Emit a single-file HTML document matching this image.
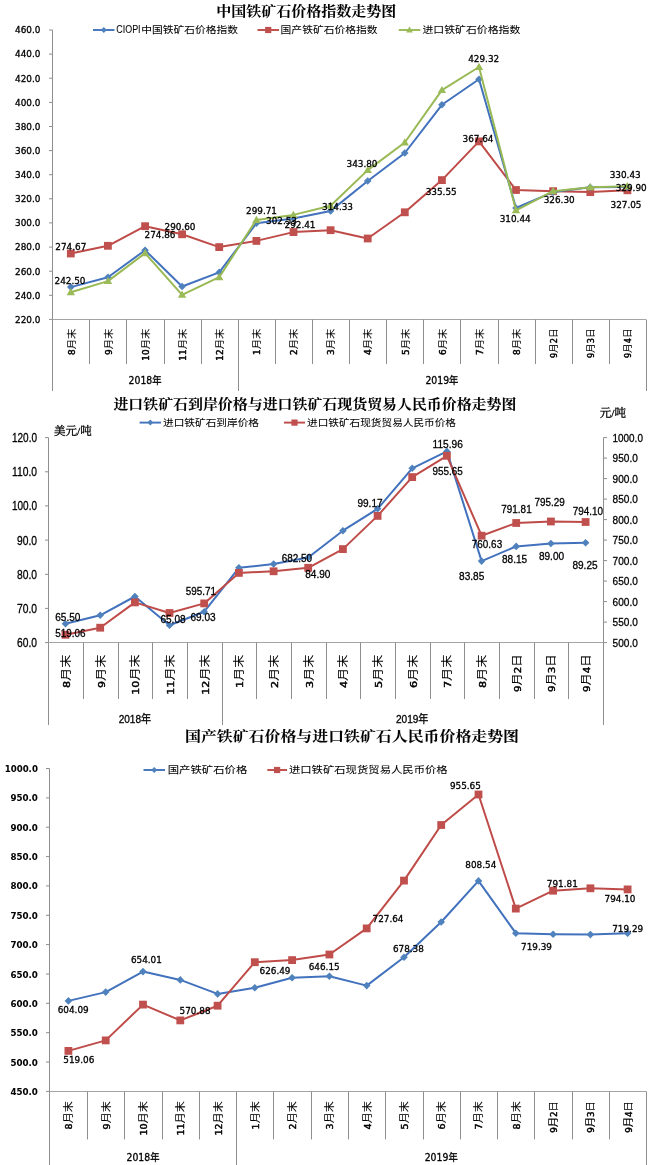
<!DOCTYPE html>
<html><head><meta charset="utf-8"><title>铁矿石价格走势图</title>
<style>html,body{margin:0;padding:0;background:#fff;}svg{display:block;}text{stroke:#000;stroke-width:0.3px;}text.t{stroke-width:0.05px;}</style>
</head><body>
<svg width="650" height="1165" viewBox="0 0 650 1165">
<rect width="650" height="1165" fill="#fff"/>
<text x="306.3" y="16.0" font-size="13.5" font-family="'Liberation Serif', 'Noto Serif CJK SC', serif" font-weight="bold" text-anchor="middle" textLength="180.0" lengthAdjust="spacingAndGlyphs" class="t" fill="#000">中国铁矿石价格指数走势图</text>
<line x1="93" y1="30" x2="114.5" y2="30" stroke="#4272bd" stroke-width="1.9"/>
<path d="M103.8 27.0L106.8 30.0L103.8 33.0L100.7 30.0Z" fill="#4f81bd"/>
<text x="141.3" y="33.4" font-size="9.6" font-family="'Liberation Sans', 'Noto Sans CJK SC', sans-serif" textLength="96.7" lengthAdjust="spacingAndGlyphs" class="t" fill="#000">中国铁矿石价格指数</text>
<text x="116.3" y="33.3" font-size="10" font-family="'Liberation Sans', 'Noto Sans CJK SC', sans-serif" textLength="24.3" lengthAdjust="spacingAndGlyphs" class="t" fill="#000">CIOPI</text>
<line x1="257.5" y1="30" x2="279" y2="30" stroke="#be4b48" stroke-width="1.9"/>
<rect x="265.1" y="26.9" width="6.2" height="6.2" fill="#c0504d"/>
<text x="280.6" y="33.4" font-size="9.6" font-family="'Liberation Sans', 'Noto Sans CJK SC', sans-serif" textLength="97.0" lengthAdjust="spacingAndGlyphs" class="t" fill="#000">国产铁矿石价格指数</text>
<line x1="398.7" y1="30" x2="420.3" y2="30" stroke="#98b954" stroke-width="1.9"/>
<path d="M409.5 26.6L412.9 32.4L406.1 32.4Z" fill="#9bbb59"/>
<text x="422.4" y="33.4" font-size="9.6" font-family="'Liberation Sans', 'Noto Sans CJK SC', sans-serif" textLength="98.0" lengthAdjust="spacingAndGlyphs" class="t" fill="#000">进口铁矿石价格指数</text>
<line x1="52.5" y1="30" x2="52.5" y2="391" stroke="#8e8e8e" stroke-width="1"/>
<line x1="49" y1="319.4" x2="52.5" y2="319.4" stroke="#8e8e8e" stroke-width="1"/>
<text x="40.4" y="322.7" font-size="9" font-family="'DejaVu Sans', 'Noto Sans CJK SC', sans-serif" text-anchor="end" textLength="25.4" lengthAdjust="spacingAndGlyphs" fill="#000">220.0</text>
<line x1="49" y1="295.3" x2="52.5" y2="295.3" stroke="#8e8e8e" stroke-width="1"/>
<text x="40.4" y="298.6" font-size="9" font-family="'DejaVu Sans', 'Noto Sans CJK SC', sans-serif" text-anchor="end" textLength="25.4" lengthAdjust="spacingAndGlyphs" fill="#000">240.0</text>
<line x1="49" y1="271.2" x2="52.5" y2="271.2" stroke="#8e8e8e" stroke-width="1"/>
<text x="40.4" y="274.5" font-size="9" font-family="'DejaVu Sans', 'Noto Sans CJK SC', sans-serif" text-anchor="end" textLength="25.4" lengthAdjust="spacingAndGlyphs" fill="#000">260.0</text>
<line x1="49" y1="247.1" x2="52.5" y2="247.1" stroke="#8e8e8e" stroke-width="1"/>
<text x="40.4" y="250.4" font-size="9" font-family="'DejaVu Sans', 'Noto Sans CJK SC', sans-serif" text-anchor="end" textLength="25.4" lengthAdjust="spacingAndGlyphs" fill="#000">280.0</text>
<line x1="49" y1="222.9" x2="52.5" y2="222.9" stroke="#8e8e8e" stroke-width="1"/>
<text x="40.4" y="226.2" font-size="9" font-family="'DejaVu Sans', 'Noto Sans CJK SC', sans-serif" text-anchor="end" textLength="25.4" lengthAdjust="spacingAndGlyphs" fill="#000">300.0</text>
<line x1="49" y1="198.8" x2="52.5" y2="198.8" stroke="#8e8e8e" stroke-width="1"/>
<text x="40.4" y="202.1" font-size="9" font-family="'DejaVu Sans', 'Noto Sans CJK SC', sans-serif" text-anchor="end" textLength="25.4" lengthAdjust="spacingAndGlyphs" fill="#000">320.0</text>
<line x1="49" y1="174.7" x2="52.5" y2="174.7" stroke="#8e8e8e" stroke-width="1"/>
<text x="40.4" y="178.0" font-size="9" font-family="'DejaVu Sans', 'Noto Sans CJK SC', sans-serif" text-anchor="end" textLength="25.4" lengthAdjust="spacingAndGlyphs" fill="#000">340.0</text>
<line x1="49" y1="150.6" x2="52.5" y2="150.6" stroke="#8e8e8e" stroke-width="1"/>
<text x="40.4" y="153.9" font-size="9" font-family="'DejaVu Sans', 'Noto Sans CJK SC', sans-serif" text-anchor="end" textLength="25.4" lengthAdjust="spacingAndGlyphs" fill="#000">360.0</text>
<line x1="49" y1="126.5" x2="52.5" y2="126.5" stroke="#8e8e8e" stroke-width="1"/>
<text x="40.4" y="129.8" font-size="9" font-family="'DejaVu Sans', 'Noto Sans CJK SC', sans-serif" text-anchor="end" textLength="25.4" lengthAdjust="spacingAndGlyphs" fill="#000">380.0</text>
<line x1="49" y1="102.4" x2="52.5" y2="102.4" stroke="#8e8e8e" stroke-width="1"/>
<text x="40.4" y="105.7" font-size="9" font-family="'DejaVu Sans', 'Noto Sans CJK SC', sans-serif" text-anchor="end" textLength="25.4" lengthAdjust="spacingAndGlyphs" fill="#000">400.0</text>
<line x1="49" y1="78.2" x2="52.5" y2="78.2" stroke="#8e8e8e" stroke-width="1"/>
<text x="40.4" y="81.5" font-size="9" font-family="'DejaVu Sans', 'Noto Sans CJK SC', sans-serif" text-anchor="end" textLength="25.4" lengthAdjust="spacingAndGlyphs" fill="#000">420.0</text>
<line x1="49" y1="54.1" x2="52.5" y2="54.1" stroke="#8e8e8e" stroke-width="1"/>
<text x="40.4" y="57.4" font-size="9" font-family="'DejaVu Sans', 'Noto Sans CJK SC', sans-serif" text-anchor="end" textLength="25.4" lengthAdjust="spacingAndGlyphs" fill="#000">440.0</text>
<line x1="49" y1="30.0" x2="52.5" y2="30.0" stroke="#8e8e8e" stroke-width="1"/>
<text x="40.4" y="33.3" font-size="9" font-family="'DejaVu Sans', 'Noto Sans CJK SC', sans-serif" text-anchor="end" textLength="25.4" lengthAdjust="spacingAndGlyphs" fill="#000">460.0</text>
<line x1="52.3" y1="319.5" x2="645.9" y2="319.5" stroke="#a4a4a4" stroke-width="1"/>
<line x1="89.5" y1="319.5" x2="89.5" y2="364" stroke="#8e8e8e" stroke-width="1"/>
<line x1="126.5" y1="319.5" x2="126.5" y2="364" stroke="#8e8e8e" stroke-width="1"/>
<line x1="164.5" y1="319.5" x2="164.5" y2="364" stroke="#8e8e8e" stroke-width="1"/>
<line x1="201.5" y1="319.5" x2="201.5" y2="364" stroke="#8e8e8e" stroke-width="1"/>
<line x1="238.5" y1="319.5" x2="238.5" y2="391" stroke="#8e8e8e" stroke-width="1"/>
<line x1="275.5" y1="319.5" x2="275.5" y2="364" stroke="#8e8e8e" stroke-width="1"/>
<line x1="312.5" y1="319.5" x2="312.5" y2="364" stroke="#8e8e8e" stroke-width="1"/>
<line x1="349.5" y1="319.5" x2="349.5" y2="364" stroke="#8e8e8e" stroke-width="1"/>
<line x1="386.5" y1="319.5" x2="386.5" y2="364" stroke="#8e8e8e" stroke-width="1"/>
<line x1="423.5" y1="319.5" x2="423.5" y2="364" stroke="#8e8e8e" stroke-width="1"/>
<line x1="460.5" y1="319.5" x2="460.5" y2="364" stroke="#8e8e8e" stroke-width="1"/>
<line x1="498.5" y1="319.5" x2="498.5" y2="364" stroke="#8e8e8e" stroke-width="1"/>
<line x1="535.5" y1="319.5" x2="535.5" y2="364" stroke="#8e8e8e" stroke-width="1"/>
<line x1="572.5" y1="319.5" x2="572.5" y2="364" stroke="#8e8e8e" stroke-width="1"/>
<line x1="609.5" y1="319.5" x2="609.5" y2="364" stroke="#8e8e8e" stroke-width="1"/>
<line x1="646.5" y1="319.5" x2="646.5" y2="391" stroke="#8e8e8e" stroke-width="1"/>
<text x="0.0" y="0.0" font-size="9.5" font-family="'DejaVu Sans', 'Noto Sans CJK SC', sans-serif" text-anchor="end" textLength="26.5" lengthAdjust="spacingAndGlyphs" class="t" transform="translate(74.6,328.5) rotate(-90)" fill="#000"><tspan font-size="8.1" style="stroke-width:0.45px">8</tspan>月末</text>
<text x="0.0" y="0.0" font-size="9.5" font-family="'DejaVu Sans', 'Noto Sans CJK SC', sans-serif" text-anchor="end" textLength="26.5" lengthAdjust="spacingAndGlyphs" class="t" transform="translate(111.7,328.5) rotate(-90)" fill="#000"><tspan font-size="8.1" style="stroke-width:0.45px">9</tspan>月末</text>
<text x="0.0" y="0.0" font-size="9.5" font-family="'DejaVu Sans', 'Noto Sans CJK SC', sans-serif" text-anchor="end" textLength="32.2" lengthAdjust="spacingAndGlyphs" class="t" transform="translate(148.8,328.5) rotate(-90)" fill="#000"><tspan font-size="8.1" style="stroke-width:0.45px">10</tspan>月末</text>
<text x="0.0" y="0.0" font-size="9.5" font-family="'DejaVu Sans', 'Noto Sans CJK SC', sans-serif" text-anchor="end" textLength="32.2" lengthAdjust="spacingAndGlyphs" class="t" transform="translate(185.9,328.5) rotate(-90)" fill="#000"><tspan font-size="8.1" style="stroke-width:0.45px">11</tspan>月末</text>
<text x="0.0" y="0.0" font-size="9.5" font-family="'DejaVu Sans', 'Noto Sans CJK SC', sans-serif" text-anchor="end" textLength="32.2" lengthAdjust="spacingAndGlyphs" class="t" transform="translate(223.0,328.5) rotate(-90)" fill="#000"><tspan font-size="8.1" style="stroke-width:0.45px">12</tspan>月末</text>
<text x="0.0" y="0.0" font-size="9.5" font-family="'DejaVu Sans', 'Noto Sans CJK SC', sans-serif" text-anchor="end" textLength="26.5" lengthAdjust="spacingAndGlyphs" class="t" transform="translate(260.1,328.5) rotate(-90)" fill="#000"><tspan font-size="8.1" style="stroke-width:0.45px">1</tspan>月末</text>
<text x="0.0" y="0.0" font-size="9.5" font-family="'DejaVu Sans', 'Noto Sans CJK SC', sans-serif" text-anchor="end" textLength="26.5" lengthAdjust="spacingAndGlyphs" class="t" transform="translate(297.2,328.5) rotate(-90)" fill="#000"><tspan font-size="8.1" style="stroke-width:0.45px">2</tspan>月末</text>
<text x="0.0" y="0.0" font-size="9.5" font-family="'DejaVu Sans', 'Noto Sans CJK SC', sans-serif" text-anchor="end" textLength="26.5" lengthAdjust="spacingAndGlyphs" class="t" transform="translate(334.3,328.5) rotate(-90)" fill="#000"><tspan font-size="8.1" style="stroke-width:0.45px">3</tspan>月末</text>
<text x="0.0" y="0.0" font-size="9.5" font-family="'DejaVu Sans', 'Noto Sans CJK SC', sans-serif" text-anchor="end" textLength="26.5" lengthAdjust="spacingAndGlyphs" class="t" transform="translate(371.4,328.5) rotate(-90)" fill="#000"><tspan font-size="8.1" style="stroke-width:0.45px">4</tspan>月末</text>
<text x="0.0" y="0.0" font-size="9.5" font-family="'DejaVu Sans', 'Noto Sans CJK SC', sans-serif" text-anchor="end" textLength="26.5" lengthAdjust="spacingAndGlyphs" class="t" transform="translate(408.5,328.5) rotate(-90)" fill="#000"><tspan font-size="8.1" style="stroke-width:0.45px">5</tspan>月末</text>
<text x="0.0" y="0.0" font-size="9.5" font-family="'DejaVu Sans', 'Noto Sans CJK SC', sans-serif" text-anchor="end" textLength="26.5" lengthAdjust="spacingAndGlyphs" class="t" transform="translate(445.6,328.5) rotate(-90)" fill="#000"><tspan font-size="8.1" style="stroke-width:0.45px">6</tspan>月末</text>
<text x="0.0" y="0.0" font-size="9.5" font-family="'DejaVu Sans', 'Noto Sans CJK SC', sans-serif" text-anchor="end" textLength="26.5" lengthAdjust="spacingAndGlyphs" class="t" transform="translate(482.7,328.5) rotate(-90)" fill="#000"><tspan font-size="8.1" style="stroke-width:0.45px">7</tspan>月末</text>
<text x="0.0" y="0.0" font-size="9.5" font-family="'DejaVu Sans', 'Noto Sans CJK SC', sans-serif" text-anchor="end" textLength="26.5" lengthAdjust="spacingAndGlyphs" class="t" transform="translate(519.8,328.5) rotate(-90)" fill="#000"><tspan font-size="8.1" style="stroke-width:0.45px">8</tspan>月末</text>
<text x="0.0" y="0.0" font-size="9.5" font-family="'DejaVu Sans', 'Noto Sans CJK SC', sans-serif" text-anchor="end" textLength="29.6" lengthAdjust="spacingAndGlyphs" class="t" transform="translate(556.9,328.5) rotate(-90)" fill="#000"><tspan font-size="8.1" style="stroke-width:0.45px">9</tspan>月<tspan font-size="8.1" style="stroke-width:0.45px">2</tspan>日</text>
<text x="0.0" y="0.0" font-size="9.5" font-family="'DejaVu Sans', 'Noto Sans CJK SC', sans-serif" text-anchor="end" textLength="29.6" lengthAdjust="spacingAndGlyphs" class="t" transform="translate(594.0,328.5) rotate(-90)" fill="#000"><tspan font-size="8.1" style="stroke-width:0.45px">9</tspan>月<tspan font-size="8.1" style="stroke-width:0.45px">3</tspan>日</text>
<text x="0.0" y="0.0" font-size="9.5" font-family="'DejaVu Sans', 'Noto Sans CJK SC', sans-serif" text-anchor="end" textLength="29.6" lengthAdjust="spacingAndGlyphs" class="t" transform="translate(631.1,328.5) rotate(-90)" fill="#000"><tspan font-size="8.1" style="stroke-width:0.45px">9</tspan>月<tspan font-size="8.1" style="stroke-width:0.45px">4</tspan>日</text>
<text x="145.1" y="383.5" font-size="10" font-family="'DejaVu Sans', 'Noto Sans CJK SC', sans-serif" text-anchor="middle" textLength="33.0" lengthAdjust="spacingAndGlyphs" fill="#000">2018年</text>
<text x="441.9" y="383.5" font-size="10" font-family="'DejaVu Sans', 'Noto Sans CJK SC', sans-serif" text-anchor="middle" textLength="33.0" lengthAdjust="spacingAndGlyphs" fill="#000">2019年</text>
<polyline points="70.8,253.5 108.0,245.8 145.1,226.2 182.1,234.3 219.2,247.1 256.4,240.9 293.4,232.1 330.6,230.2 367.7,238.5 404.8,212.3 441.9,180.1 479.0,141.4 516.0,190.0 553.1,191.2 590.2,192.1 627.4,190.3" fill="none" stroke="#be4b48" stroke-width="2.0" stroke-linejoin="round" stroke-linecap="round"/>
<rect x="66.9" y="249.6" width="7.8" height="7.8" fill="#c0504d"/>
<rect x="104.0" y="241.9" width="7.8" height="7.8" fill="#c0504d"/>
<rect x="141.2" y="222.3" width="7.8" height="7.8" fill="#c0504d"/>
<rect x="178.2" y="230.4" width="7.8" height="7.8" fill="#c0504d"/>
<rect x="215.3" y="243.2" width="7.8" height="7.8" fill="#c0504d"/>
<rect x="252.5" y="237.0" width="7.8" height="7.8" fill="#c0504d"/>
<rect x="289.6" y="228.2" width="7.8" height="7.8" fill="#c0504d"/>
<rect x="326.7" y="226.3" width="7.8" height="7.8" fill="#c0504d"/>
<rect x="363.8" y="234.6" width="7.8" height="7.8" fill="#c0504d"/>
<rect x="400.9" y="208.4" width="7.8" height="7.8" fill="#c0504d"/>
<rect x="438.0" y="176.2" width="7.8" height="7.8" fill="#c0504d"/>
<rect x="475.1" y="137.5" width="7.8" height="7.8" fill="#c0504d"/>
<rect x="512.1" y="186.1" width="7.8" height="7.8" fill="#c0504d"/>
<rect x="549.2" y="187.3" width="7.8" height="7.8" fill="#c0504d"/>
<rect x="586.4" y="188.2" width="7.8" height="7.8" fill="#c0504d"/>
<rect x="623.5" y="186.4" width="7.8" height="7.8" fill="#c0504d"/>
<polyline points="70.8,287.1 108.0,277.2 145.1,250.2 182.1,286.5 219.2,272.4 256.4,223.3 293.4,218.5 330.6,210.9 367.7,181.0 404.8,153.0 441.9,104.8 479.0,79.2 516.0,208.0 553.1,192.1 590.2,187.2 627.4,186.9" fill="none" stroke="#4272bd" stroke-width="2.0" stroke-linejoin="round" stroke-linecap="round"/>
<path d="M70.8 283.3L74.6 287.1L70.8 290.9L67.0 287.1Z" fill="#4f81bd"/>
<path d="M108.0 273.4L111.8 277.2L108.0 281.0L104.2 277.2Z" fill="#4f81bd"/>
<path d="M145.1 246.4L148.9 250.2L145.1 254.0L141.2 250.2Z" fill="#4f81bd"/>
<path d="M182.1 282.7L185.9 286.5L182.1 290.3L178.3 286.5Z" fill="#4f81bd"/>
<path d="M219.2 268.6L223.1 272.4L219.2 276.2L215.4 272.4Z" fill="#4f81bd"/>
<path d="M256.4 219.5L260.2 223.3L256.4 227.1L252.6 223.3Z" fill="#4f81bd"/>
<path d="M293.4 214.7L297.2 218.5L293.4 222.3L289.6 218.5Z" fill="#4f81bd"/>
<path d="M330.6 207.1L334.4 210.9L330.6 214.7L326.8 210.9Z" fill="#4f81bd"/>
<path d="M367.7 177.2L371.5 181.0L367.7 184.8L363.9 181.0Z" fill="#4f81bd"/>
<path d="M404.8 149.2L408.6 153.0L404.8 156.8L400.9 153.0Z" fill="#4f81bd"/>
<path d="M441.9 101.0L445.7 104.8L441.9 108.6L438.1 104.8Z" fill="#4f81bd"/>
<path d="M479.0 75.4L482.8 79.2L479.0 83.0L475.2 79.2Z" fill="#4f81bd"/>
<path d="M516.0 204.2L519.8 208.0L516.0 211.8L512.2 208.0Z" fill="#4f81bd"/>
<path d="M553.1 188.3L556.9 192.1L553.1 195.9L549.4 192.1Z" fill="#4f81bd"/>
<path d="M590.2 183.4L594.0 187.2L590.2 191.0L586.5 187.2Z" fill="#4f81bd"/>
<path d="M627.4 183.1L631.1 186.9L627.4 190.7L623.6 186.9Z" fill="#4f81bd"/>
<polyline points="70.8,292.3 108.0,281.1 145.1,253.2 182.1,294.8 219.2,277.2 256.4,219.9 293.4,214.9 330.6,205.7 367.7,170.1 404.8,142.5 441.9,90.1 479.0,67.0 516.0,210.3 553.1,191.2 590.2,187.2 627.4,186.2" fill="none" stroke="#98b954" stroke-width="2.0" stroke-linejoin="round" stroke-linecap="round"/>
<path d="M70.8 288.1L75.0 295.3L66.6 295.3Z" fill="#9bbb59"/>
<path d="M108.0 276.9L112.2 284.1L103.8 284.1Z" fill="#9bbb59"/>
<path d="M145.1 249.0L149.2 256.2L140.9 256.2Z" fill="#9bbb59"/>
<path d="M182.1 290.6L186.3 297.8L177.9 297.8Z" fill="#9bbb59"/>
<path d="M219.2 273.0L223.4 280.2L215.1 280.2Z" fill="#9bbb59"/>
<path d="M256.4 215.7L260.6 222.9L252.2 222.9Z" fill="#9bbb59"/>
<path d="M293.4 210.7L297.6 217.9L289.2 217.9Z" fill="#9bbb59"/>
<path d="M330.6 201.5L334.8 208.7L326.4 208.7Z" fill="#9bbb59"/>
<path d="M367.7 165.9L371.9 173.1L363.5 173.1Z" fill="#9bbb59"/>
<path d="M404.8 138.3L408.9 145.5L400.6 145.5Z" fill="#9bbb59"/>
<path d="M441.9 85.9L446.1 93.1L437.7 93.1Z" fill="#9bbb59"/>
<path d="M479.0 62.8L483.2 70.0L474.8 70.0Z" fill="#9bbb59"/>
<path d="M516.0 206.1L520.2 213.3L511.8 213.3Z" fill="#9bbb59"/>
<path d="M553.1 187.0L557.4 194.2L548.9 194.2Z" fill="#9bbb59"/>
<path d="M590.2 183.0L594.5 190.2L586.0 190.2Z" fill="#9bbb59"/>
<path d="M627.4 182.0L631.6 189.2L623.1 189.2Z" fill="#9bbb59"/>
<text x="70.8" y="250.4" font-size="9" font-family="'DejaVu Sans', 'Noto Sans CJK SC', sans-serif" text-anchor="middle" textLength="31.0" lengthAdjust="spacingAndGlyphs" fill="#000">274.67</text>
<text x="70.0" y="283.9" font-size="9" font-family="'DejaVu Sans', 'Noto Sans CJK SC', sans-serif" text-anchor="middle" textLength="31.0" lengthAdjust="spacingAndGlyphs" fill="#000">242.50</text>
<text x="180.0" y="229.8" font-size="9" font-family="'DejaVu Sans', 'Noto Sans CJK SC', sans-serif" text-anchor="middle" textLength="31.0" lengthAdjust="spacingAndGlyphs" fill="#000">290.60</text>
<text x="160.0" y="238.1" font-size="9" font-family="'DejaVu Sans', 'Noto Sans CJK SC', sans-serif" text-anchor="middle" textLength="31.0" lengthAdjust="spacingAndGlyphs" fill="#000">274.86</text>
<text x="261.5" y="213.5" font-size="9" font-family="'DejaVu Sans', 'Noto Sans CJK SC', sans-serif" text-anchor="middle" textLength="31.0" lengthAdjust="spacingAndGlyphs" fill="#000">299.71</text>
<text x="281.5" y="223.9" font-size="9" font-family="'DejaVu Sans', 'Noto Sans CJK SC', sans-serif" text-anchor="middle" textLength="31.0" lengthAdjust="spacingAndGlyphs" fill="#000">302.53</text>
<text x="300.0" y="227.9" font-size="9" font-family="'DejaVu Sans', 'Noto Sans CJK SC', sans-serif" text-anchor="middle" textLength="31.0" lengthAdjust="spacingAndGlyphs" fill="#000">292.41</text>
<text x="337.5" y="209.8" font-size="9" font-family="'DejaVu Sans', 'Noto Sans CJK SC', sans-serif" text-anchor="middle" textLength="31.0" lengthAdjust="spacingAndGlyphs" fill="#000">314.33</text>
<text x="362.0" y="167.3" font-size="9" font-family="'DejaVu Sans', 'Noto Sans CJK SC', sans-serif" text-anchor="middle" textLength="31.0" lengthAdjust="spacingAndGlyphs" fill="#000">343.80</text>
<text x="483.7" y="62.0" font-size="9" font-family="'DejaVu Sans', 'Noto Sans CJK SC', sans-serif" text-anchor="middle" textLength="31.0" lengthAdjust="spacingAndGlyphs" fill="#000">429.32</text>
<text x="478.0" y="142.1" font-size="9" font-family="'DejaVu Sans', 'Noto Sans CJK SC', sans-serif" text-anchor="middle" textLength="31.0" lengthAdjust="spacingAndGlyphs" fill="#000">367.64</text>
<text x="441.2" y="194.5" font-size="9" font-family="'DejaVu Sans', 'Noto Sans CJK SC', sans-serif" text-anchor="middle" textLength="31.0" lengthAdjust="spacingAndGlyphs" fill="#000">335.55</text>
<text x="515.2" y="222.1" font-size="9" font-family="'DejaVu Sans', 'Noto Sans CJK SC', sans-serif" text-anchor="middle" textLength="31.0" lengthAdjust="spacingAndGlyphs" fill="#000">310.44</text>
<text x="559.2" y="202.9" font-size="9" font-family="'DejaVu Sans', 'Noto Sans CJK SC', sans-serif" text-anchor="middle" textLength="31.0" lengthAdjust="spacingAndGlyphs" fill="#000">326.30</text>
<text x="625.2" y="178.1" font-size="9" font-family="'DejaVu Sans', 'Noto Sans CJK SC', sans-serif" text-anchor="middle" textLength="31.0" lengthAdjust="spacingAndGlyphs" fill="#000">330.43</text>
<text x="631.2" y="191.3" font-size="9" font-family="'DejaVu Sans', 'Noto Sans CJK SC', sans-serif" text-anchor="middle" textLength="31.0" lengthAdjust="spacingAndGlyphs" fill="#000">329.90</text>
<text x="626.0" y="207.7" font-size="9" font-family="'DejaVu Sans', 'Noto Sans CJK SC', sans-serif" text-anchor="middle" textLength="31.0" lengthAdjust="spacingAndGlyphs" fill="#000">327.05</text>
<text x="314.9" y="409.0" font-size="14" font-family="'Liberation Serif', 'Noto Serif CJK SC', serif" font-weight="bold" text-anchor="middle" textLength="403.0" lengthAdjust="spacingAndGlyphs" class="t" fill="#000">进口铁矿石到岸价格与进口铁矿石现货贸易人民币价格走势图</text>
<line x1="139.6" y1="422.6" x2="161" y2="422.6" stroke="#4272bd" stroke-width="1.9"/>
<path d="M150.3 419.6L153.3 422.6L150.3 425.6L147.3 422.6Z" fill="#4f81bd"/>
<text x="163.0" y="426.0" font-size="9.6" font-family="'Liberation Sans', 'Noto Sans CJK SC', sans-serif" textLength="96.0" lengthAdjust="spacingAndGlyphs" class="t" fill="#000">进口铁矿石到岸价格</text>
<line x1="284" y1="422.6" x2="305" y2="422.6" stroke="#be4b48" stroke-width="1.9"/>
<rect x="291.4" y="419.5" width="6.2" height="6.2" fill="#c0504d"/>
<text x="307.0" y="426.0" font-size="9.6" font-family="'Liberation Sans', 'Noto Sans CJK SC', sans-serif" textLength="149.0" lengthAdjust="spacingAndGlyphs" class="t" fill="#000">进口铁矿石现货贸易人民币价格</text>
<text x="53.9" y="434.5" font-size="11" font-family="'Liberation Serif', 'Noto Serif CJK SC', serif" textLength="37.8" lengthAdjust="spacingAndGlyphs" fill="#000">美元/吨</text>
<text x="599.8" y="416.5" font-size="11" font-family="'Liberation Serif', 'Noto Serif CJK SC', serif" textLength="26.2" lengthAdjust="spacingAndGlyphs" fill="#000">元/吨</text>
<line x1="48.5" y1="437.6" x2="48.5" y2="725" stroke="#8e8e8e" stroke-width="1"/>
<line x1="603.5" y1="437.6" x2="603.5" y2="725" stroke="#8e8e8e" stroke-width="1"/>
<line x1="45" y1="642.6" x2="48.5" y2="642.6" stroke="#8e8e8e" stroke-width="1"/>
<text x="37.0" y="647.0" font-size="12.5" font-family="'Liberation Sans', 'Noto Sans CJK SC', sans-serif" text-anchor="end" textLength="20.0" lengthAdjust="spacingAndGlyphs" fill="#000">60.0</text>
<line x1="45" y1="608.4" x2="48.5" y2="608.4" stroke="#8e8e8e" stroke-width="1"/>
<text x="37.0" y="612.8" font-size="12.5" font-family="'Liberation Sans', 'Noto Sans CJK SC', sans-serif" text-anchor="end" textLength="20.0" lengthAdjust="spacingAndGlyphs" fill="#000">70.0</text>
<line x1="45" y1="574.3" x2="48.5" y2="574.3" stroke="#8e8e8e" stroke-width="1"/>
<text x="37.0" y="578.7" font-size="12.5" font-family="'Liberation Sans', 'Noto Sans CJK SC', sans-serif" text-anchor="end" textLength="20.0" lengthAdjust="spacingAndGlyphs" fill="#000">80.0</text>
<line x1="45" y1="540.1" x2="48.5" y2="540.1" stroke="#8e8e8e" stroke-width="1"/>
<text x="37.0" y="544.5" font-size="12.5" font-family="'Liberation Sans', 'Noto Sans CJK SC', sans-serif" text-anchor="end" textLength="20.0" lengthAdjust="spacingAndGlyphs" fill="#000">90.0</text>
<line x1="45" y1="505.9" x2="48.5" y2="505.9" stroke="#8e8e8e" stroke-width="1"/>
<text x="37.0" y="510.3" font-size="12.5" font-family="'Liberation Sans', 'Noto Sans CJK SC', sans-serif" text-anchor="end" textLength="25.0" lengthAdjust="spacingAndGlyphs" fill="#000">100.0</text>
<line x1="45" y1="471.8" x2="48.5" y2="471.8" stroke="#8e8e8e" stroke-width="1"/>
<text x="37.0" y="476.2" font-size="12.5" font-family="'Liberation Sans', 'Noto Sans CJK SC', sans-serif" text-anchor="end" textLength="25.0" lengthAdjust="spacingAndGlyphs" fill="#000">110.0</text>
<line x1="45" y1="437.6" x2="48.5" y2="437.6" stroke="#8e8e8e" stroke-width="1"/>
<text x="37.0" y="442.0" font-size="12.5" font-family="'Liberation Sans', 'Noto Sans CJK SC', sans-serif" text-anchor="end" textLength="25.0" lengthAdjust="spacingAndGlyphs" fill="#000">120.0</text>
<line x1="603.5" y1="642.6" x2="607" y2="642.6" stroke="#8e8e8e" stroke-width="1"/>
<text x="612.6" y="646.6" font-size="11.5" font-family="'Liberation Sans', 'Noto Sans CJK SC', sans-serif" textLength="25.2" lengthAdjust="spacingAndGlyphs" fill="#000">500.0</text>
<line x1="603.5" y1="622.1" x2="607" y2="622.1" stroke="#8e8e8e" stroke-width="1"/>
<text x="612.6" y="626.1" font-size="11.5" font-family="'Liberation Sans', 'Noto Sans CJK SC', sans-serif" textLength="25.2" lengthAdjust="spacingAndGlyphs" fill="#000">550.0</text>
<line x1="603.5" y1="601.6" x2="607" y2="601.6" stroke="#8e8e8e" stroke-width="1"/>
<text x="612.6" y="605.6" font-size="11.5" font-family="'Liberation Sans', 'Noto Sans CJK SC', sans-serif" textLength="25.2" lengthAdjust="spacingAndGlyphs" fill="#000">600.0</text>
<line x1="603.5" y1="581.1" x2="607" y2="581.1" stroke="#8e8e8e" stroke-width="1"/>
<text x="612.6" y="585.1" font-size="11.5" font-family="'Liberation Sans', 'Noto Sans CJK SC', sans-serif" textLength="25.2" lengthAdjust="spacingAndGlyphs" fill="#000">650.0</text>
<line x1="603.5" y1="560.6" x2="607" y2="560.6" stroke="#8e8e8e" stroke-width="1"/>
<text x="612.6" y="564.6" font-size="11.5" font-family="'Liberation Sans', 'Noto Sans CJK SC', sans-serif" textLength="25.2" lengthAdjust="spacingAndGlyphs" fill="#000">700.0</text>
<line x1="603.5" y1="540.1" x2="607" y2="540.1" stroke="#8e8e8e" stroke-width="1"/>
<text x="612.6" y="544.1" font-size="11.5" font-family="'Liberation Sans', 'Noto Sans CJK SC', sans-serif" textLength="25.2" lengthAdjust="spacingAndGlyphs" fill="#000">750.0</text>
<line x1="603.5" y1="519.6" x2="607" y2="519.6" stroke="#8e8e8e" stroke-width="1"/>
<text x="612.6" y="523.6" font-size="11.5" font-family="'Liberation Sans', 'Noto Sans CJK SC', sans-serif" textLength="25.2" lengthAdjust="spacingAndGlyphs" fill="#000">800.0</text>
<line x1="603.5" y1="499.1" x2="607" y2="499.1" stroke="#8e8e8e" stroke-width="1"/>
<text x="612.6" y="503.1" font-size="11.5" font-family="'Liberation Sans', 'Noto Sans CJK SC', sans-serif" textLength="25.2" lengthAdjust="spacingAndGlyphs" fill="#000">850.0</text>
<line x1="603.5" y1="478.6" x2="607" y2="478.6" stroke="#8e8e8e" stroke-width="1"/>
<text x="612.6" y="482.6" font-size="11.5" font-family="'Liberation Sans', 'Noto Sans CJK SC', sans-serif" textLength="25.2" lengthAdjust="spacingAndGlyphs" fill="#000">900.0</text>
<line x1="603.5" y1="458.1" x2="607" y2="458.1" stroke="#8e8e8e" stroke-width="1"/>
<text x="612.6" y="462.1" font-size="11.5" font-family="'Liberation Sans', 'Noto Sans CJK SC', sans-serif" textLength="25.2" lengthAdjust="spacingAndGlyphs" fill="#000">950.0</text>
<line x1="603.5" y1="437.6" x2="607" y2="437.6" stroke="#8e8e8e" stroke-width="1"/>
<text x="612.6" y="441.6" font-size="11.5" font-family="'Liberation Sans', 'Noto Sans CJK SC', sans-serif" textLength="30.3" lengthAdjust="spacingAndGlyphs" fill="#000">1000.0</text>
<line x1="48.2" y1="642.5" x2="602.9" y2="642.5" stroke="#a4a4a4" stroke-width="1"/>
<line x1="83.5" y1="642.5" x2="83.5" y2="699" stroke="#8e8e8e" stroke-width="1"/>
<line x1="118.5" y1="642.5" x2="118.5" y2="699" stroke="#8e8e8e" stroke-width="1"/>
<line x1="152.5" y1="642.5" x2="152.5" y2="699" stroke="#8e8e8e" stroke-width="1"/>
<line x1="187.5" y1="642.5" x2="187.5" y2="699" stroke="#8e8e8e" stroke-width="1"/>
<line x1="222.5" y1="642.5" x2="222.5" y2="725" stroke="#8e8e8e" stroke-width="1"/>
<line x1="256.5" y1="642.5" x2="256.5" y2="699" stroke="#8e8e8e" stroke-width="1"/>
<line x1="291.5" y1="642.5" x2="291.5" y2="699" stroke="#8e8e8e" stroke-width="1"/>
<line x1="326.5" y1="642.5" x2="326.5" y2="699" stroke="#8e8e8e" stroke-width="1"/>
<line x1="360.5" y1="642.5" x2="360.5" y2="699" stroke="#8e8e8e" stroke-width="1"/>
<line x1="395.5" y1="642.5" x2="395.5" y2="699" stroke="#8e8e8e" stroke-width="1"/>
<line x1="430.5" y1="642.5" x2="430.5" y2="699" stroke="#8e8e8e" stroke-width="1"/>
<line x1="464.5" y1="642.5" x2="464.5" y2="699" stroke="#8e8e8e" stroke-width="1"/>
<line x1="499.5" y1="642.5" x2="499.5" y2="699" stroke="#8e8e8e" stroke-width="1"/>
<line x1="534.5" y1="642.5" x2="534.5" y2="699" stroke="#8e8e8e" stroke-width="1"/>
<line x1="568.5" y1="642.5" x2="568.5" y2="699" stroke="#8e8e8e" stroke-width="1"/>
<line x1="603.5" y1="642.5" x2="603.5" y2="725" stroke="#8e8e8e" stroke-width="1"/>
<text x="0.0" y="0.0" font-size="11" font-family="'DejaVu Sans', 'Noto Sans CJK SC', sans-serif" text-anchor="end" textLength="33.5" lengthAdjust="spacingAndGlyphs" class="t" transform="translate(69.8,654.5) rotate(-90)" fill="#000"><tspan font-size="9.3" style="stroke-width:0.45px">8</tspan>月末</text>
<text x="0.0" y="0.0" font-size="11" font-family="'DejaVu Sans', 'Noto Sans CJK SC', sans-serif" text-anchor="end" textLength="33.5" lengthAdjust="spacingAndGlyphs" class="t" transform="translate(104.5,654.5) rotate(-90)" fill="#000"><tspan font-size="9.3" style="stroke-width:0.45px">9</tspan>月末</text>
<text x="0.0" y="0.0" font-size="11" font-family="'DejaVu Sans', 'Noto Sans CJK SC', sans-serif" text-anchor="end" textLength="40.2" lengthAdjust="spacingAndGlyphs" class="t" transform="translate(139.1,654.5) rotate(-90)" fill="#000"><tspan font-size="9.3" style="stroke-width:0.45px">10</tspan>月末</text>
<text x="0.0" y="0.0" font-size="11" font-family="'DejaVu Sans', 'Noto Sans CJK SC', sans-serif" text-anchor="end" textLength="40.2" lengthAdjust="spacingAndGlyphs" class="t" transform="translate(173.8,654.5) rotate(-90)" fill="#000"><tspan font-size="9.3" style="stroke-width:0.45px">11</tspan>月末</text>
<text x="0.0" y="0.0" font-size="11" font-family="'DejaVu Sans', 'Noto Sans CJK SC', sans-serif" text-anchor="end" textLength="40.2" lengthAdjust="spacingAndGlyphs" class="t" transform="translate(208.5,654.5) rotate(-90)" fill="#000"><tspan font-size="9.3" style="stroke-width:0.45px">12</tspan>月末</text>
<text x="0.0" y="0.0" font-size="11" font-family="'DejaVu Sans', 'Noto Sans CJK SC', sans-serif" text-anchor="end" textLength="33.5" lengthAdjust="spacingAndGlyphs" class="t" transform="translate(243.1,654.5) rotate(-90)" fill="#000"><tspan font-size="9.3" style="stroke-width:0.45px">1</tspan>月末</text>
<text x="0.0" y="0.0" font-size="11" font-family="'DejaVu Sans', 'Noto Sans CJK SC', sans-serif" text-anchor="end" textLength="33.5" lengthAdjust="spacingAndGlyphs" class="t" transform="translate(277.8,654.5) rotate(-90)" fill="#000"><tspan font-size="9.3" style="stroke-width:0.45px">2</tspan>月末</text>
<text x="0.0" y="0.0" font-size="11" font-family="'DejaVu Sans', 'Noto Sans CJK SC', sans-serif" text-anchor="end" textLength="33.5" lengthAdjust="spacingAndGlyphs" class="t" transform="translate(312.5,654.5) rotate(-90)" fill="#000"><tspan font-size="9.3" style="stroke-width:0.45px">3</tspan>月末</text>
<text x="0.0" y="0.0" font-size="11" font-family="'DejaVu Sans', 'Noto Sans CJK SC', sans-serif" text-anchor="end" textLength="33.5" lengthAdjust="spacingAndGlyphs" class="t" transform="translate(347.2,654.5) rotate(-90)" fill="#000"><tspan font-size="9.3" style="stroke-width:0.45px">4</tspan>月末</text>
<text x="0.0" y="0.0" font-size="11" font-family="'DejaVu Sans', 'Noto Sans CJK SC', sans-serif" text-anchor="end" textLength="33.5" lengthAdjust="spacingAndGlyphs" class="t" transform="translate(381.8,654.5) rotate(-90)" fill="#000"><tspan font-size="9.3" style="stroke-width:0.45px">5</tspan>月末</text>
<text x="0.0" y="0.0" font-size="11" font-family="'DejaVu Sans', 'Noto Sans CJK SC', sans-serif" text-anchor="end" textLength="33.5" lengthAdjust="spacingAndGlyphs" class="t" transform="translate(416.5,654.5) rotate(-90)" fill="#000"><tspan font-size="9.3" style="stroke-width:0.45px">6</tspan>月末</text>
<text x="0.0" y="0.0" font-size="11" font-family="'DejaVu Sans', 'Noto Sans CJK SC', sans-serif" text-anchor="end" textLength="33.5" lengthAdjust="spacingAndGlyphs" class="t" transform="translate(451.2,654.5) rotate(-90)" fill="#000"><tspan font-size="9.3" style="stroke-width:0.45px">7</tspan>月末</text>
<text x="0.0" y="0.0" font-size="11" font-family="'DejaVu Sans', 'Noto Sans CJK SC', sans-serif" text-anchor="end" textLength="33.5" lengthAdjust="spacingAndGlyphs" class="t" transform="translate(485.8,654.5) rotate(-90)" fill="#000"><tspan font-size="9.3" style="stroke-width:0.45px">8</tspan>月末</text>
<text x="0.0" y="0.0" font-size="11" font-family="'DejaVu Sans', 'Noto Sans CJK SC', sans-serif" text-anchor="end" textLength="37.5" lengthAdjust="spacingAndGlyphs" class="t" transform="translate(520.5,654.5) rotate(-90)" fill="#000"><tspan font-size="9.3" style="stroke-width:0.45px">9</tspan>月<tspan font-size="9.3" style="stroke-width:0.45px">2</tspan>日</text>
<text x="0.0" y="0.0" font-size="11" font-family="'DejaVu Sans', 'Noto Sans CJK SC', sans-serif" text-anchor="end" textLength="37.5" lengthAdjust="spacingAndGlyphs" class="t" transform="translate(555.2,654.5) rotate(-90)" fill="#000"><tspan font-size="9.3" style="stroke-width:0.45px">9</tspan>月<tspan font-size="9.3" style="stroke-width:0.45px">3</tspan>日</text>
<text x="0.0" y="0.0" font-size="11" font-family="'DejaVu Sans', 'Noto Sans CJK SC', sans-serif" text-anchor="end" textLength="37.5" lengthAdjust="spacingAndGlyphs" class="t" transform="translate(589.8,654.5) rotate(-90)" fill="#000"><tspan font-size="9.3" style="stroke-width:0.45px">9</tspan>月<tspan font-size="9.3" style="stroke-width:0.45px">4</tspan>日</text>
<text x="134.9" y="723.0" font-size="11" font-family="'Liberation Sans', 'Noto Sans CJK SC', sans-serif" text-anchor="middle" textLength="32.5" lengthAdjust="spacingAndGlyphs" fill="#000">2018年</text>
<text x="412.2" y="723.0" font-size="11" font-family="'Liberation Sans', 'Noto Sans CJK SC', sans-serif" text-anchor="middle" textLength="32.5" lengthAdjust="spacingAndGlyphs" fill="#000">2019年</text>
<polyline points="65.5,623.8 100.2,615.3 134.9,596.5 169.5,625.2 204.2,611.7 238.9,567.8 273.6,564.0 308.2,557.5 342.9,530.7 377.6,508.8 412.2,468.3 446.9,451.4 481.6,561.1 516.2,546.4 550.9,543.5 585.6,542.7" fill="none" stroke="#4272bd" stroke-width="2.0" stroke-linejoin="round" stroke-linecap="round"/>
<path d="M65.5 620.0L69.3 623.8L65.5 627.6L61.7 623.8Z" fill="#4f81bd"/>
<path d="M100.2 611.5L104.0 615.3L100.2 619.1L96.4 615.3Z" fill="#4f81bd"/>
<path d="M134.9 592.7L138.7 596.5L134.9 600.3L131.1 596.5Z" fill="#4f81bd"/>
<path d="M169.5 621.4L173.3 625.2L169.5 629.0L165.7 625.2Z" fill="#4f81bd"/>
<path d="M204.2 607.9L208.0 611.7L204.2 615.5L200.4 611.7Z" fill="#4f81bd"/>
<path d="M238.9 564.0L242.7 567.8L238.9 571.6L235.1 567.8Z" fill="#4f81bd"/>
<path d="M273.6 560.2L277.4 564.0L273.6 567.8L269.8 564.0Z" fill="#4f81bd"/>
<path d="M308.2 553.7L312.0 557.5L308.2 561.3L304.4 557.5Z" fill="#4f81bd"/>
<path d="M342.9 526.9L346.7 530.7L342.9 534.5L339.1 530.7Z" fill="#4f81bd"/>
<path d="M377.6 505.0L381.4 508.8L377.6 512.6L373.8 508.8Z" fill="#4f81bd"/>
<path d="M412.2 464.5L416.0 468.3L412.2 472.1L408.4 468.3Z" fill="#4f81bd"/>
<path d="M446.9 447.6L450.7 451.4L446.9 455.2L443.1 451.4Z" fill="#4f81bd"/>
<path d="M481.6 557.3L485.4 561.1L481.6 564.9L477.8 561.1Z" fill="#4f81bd"/>
<path d="M516.2 542.6L520.0 546.4L516.2 550.2L512.4 546.4Z" fill="#4f81bd"/>
<path d="M550.9 539.7L554.7 543.5L550.9 547.3L547.1 543.5Z" fill="#4f81bd"/>
<path d="M585.6 538.9L589.4 542.7L585.6 546.5L581.8 542.7Z" fill="#4f81bd"/>
<polyline points="65.5,634.8 100.2,627.7 134.9,602.4 169.5,613.0 204.2,603.4 238.9,572.9 273.6,571.3 308.2,567.8 342.9,549.1 377.6,515.9 412.2,477.1 446.9,455.8 481.6,535.7 516.2,523.0 550.9,521.5 585.6,522.0" fill="none" stroke="#be4b48" stroke-width="2.0" stroke-linejoin="round" stroke-linecap="round"/>
<rect x="61.6" y="630.9" width="7.8" height="7.8" fill="#c0504d"/>
<rect x="96.3" y="623.8" width="7.8" height="7.8" fill="#c0504d"/>
<rect x="131.0" y="598.5" width="7.8" height="7.8" fill="#c0504d"/>
<rect x="165.6" y="609.1" width="7.8" height="7.8" fill="#c0504d"/>
<rect x="200.3" y="599.5" width="7.8" height="7.8" fill="#c0504d"/>
<rect x="235.0" y="569.0" width="7.8" height="7.8" fill="#c0504d"/>
<rect x="269.7" y="567.4" width="7.8" height="7.8" fill="#c0504d"/>
<rect x="304.3" y="563.9" width="7.8" height="7.8" fill="#c0504d"/>
<rect x="339.0" y="545.2" width="7.8" height="7.8" fill="#c0504d"/>
<rect x="373.7" y="512.0" width="7.8" height="7.8" fill="#c0504d"/>
<rect x="408.3" y="473.2" width="7.8" height="7.8" fill="#c0504d"/>
<rect x="443.0" y="451.9" width="7.8" height="7.8" fill="#c0504d"/>
<rect x="477.7" y="531.8" width="7.8" height="7.8" fill="#c0504d"/>
<rect x="512.3" y="519.1" width="7.8" height="7.8" fill="#c0504d"/>
<rect x="547.0" y="517.6" width="7.8" height="7.8" fill="#c0504d"/>
<rect x="581.7" y="518.1" width="7.8" height="7.8" fill="#c0504d"/>
<text x="67.8" y="620.9" font-size="11" font-family="'Liberation Sans', 'Noto Sans CJK SC', sans-serif" text-anchor="middle" textLength="25.2" lengthAdjust="spacingAndGlyphs" fill="#000">65.50</text>
<text x="70.3" y="637.2" font-size="11" font-family="'Liberation Sans', 'Noto Sans CJK SC', sans-serif" text-anchor="middle" textLength="30.3" lengthAdjust="spacingAndGlyphs" fill="#000">519.06</text>
<text x="173.0" y="622.8" font-size="11" font-family="'Liberation Sans', 'Noto Sans CJK SC', sans-serif" text-anchor="middle" textLength="25.2" lengthAdjust="spacingAndGlyphs" fill="#000">65.08</text>
<text x="200.9" y="595.2" font-size="11" font-family="'Liberation Sans', 'Noto Sans CJK SC', sans-serif" text-anchor="middle" textLength="30.3" lengthAdjust="spacingAndGlyphs" fill="#000">595.71</text>
<text x="203.0" y="620.7" font-size="11" font-family="'Liberation Sans', 'Noto Sans CJK SC', sans-serif" text-anchor="middle" textLength="25.2" lengthAdjust="spacingAndGlyphs" fill="#000">69.03</text>
<text x="296.9" y="561.6" font-size="11" font-family="'Liberation Sans', 'Noto Sans CJK SC', sans-serif" text-anchor="middle" textLength="30.3" lengthAdjust="spacingAndGlyphs" fill="#000">682.50</text>
<text x="317.8" y="577.6" font-size="11" font-family="'Liberation Sans', 'Noto Sans CJK SC', sans-serif" text-anchor="middle" textLength="25.2" lengthAdjust="spacingAndGlyphs" fill="#000">84.90</text>
<text x="370.0" y="507.0" font-size="11" font-family="'Liberation Sans', 'Noto Sans CJK SC', sans-serif" text-anchor="middle" textLength="25.2" lengthAdjust="spacingAndGlyphs" fill="#000">99.17</text>
<text x="447.7" y="448.4" font-size="11" font-family="'Liberation Sans', 'Noto Sans CJK SC', sans-serif" text-anchor="middle" textLength="30.3" lengthAdjust="spacingAndGlyphs" fill="#000">115.96</text>
<text x="447.7" y="474.8" font-size="11" font-family="'Liberation Sans', 'Noto Sans CJK SC', sans-serif" text-anchor="middle" textLength="30.3" lengthAdjust="spacingAndGlyphs" fill="#000">955.65</text>
<text x="487.0" y="548.4" font-size="11" font-family="'Liberation Sans', 'Noto Sans CJK SC', sans-serif" text-anchor="middle" textLength="30.3" lengthAdjust="spacingAndGlyphs" fill="#000">760.63</text>
<text x="471.7" y="580.0" font-size="11" font-family="'Liberation Sans', 'Noto Sans CJK SC', sans-serif" text-anchor="middle" textLength="25.2" lengthAdjust="spacingAndGlyphs" fill="#000">83.85</text>
<text x="516.5" y="512.6" font-size="11" font-family="'Liberation Sans', 'Noto Sans CJK SC', sans-serif" text-anchor="middle" textLength="30.3" lengthAdjust="spacingAndGlyphs" fill="#000">791.81</text>
<text x="514.6" y="562.6" font-size="11" font-family="'Liberation Sans', 'Noto Sans CJK SC', sans-serif" text-anchor="middle" textLength="25.2" lengthAdjust="spacingAndGlyphs" fill="#000">88.15</text>
<text x="549.6" y="505.7" font-size="11" font-family="'Liberation Sans', 'Noto Sans CJK SC', sans-serif" text-anchor="middle" textLength="30.3" lengthAdjust="spacingAndGlyphs" fill="#000">795.29</text>
<text x="551.5" y="559.6" font-size="11" font-family="'Liberation Sans', 'Noto Sans CJK SC', sans-serif" text-anchor="middle" textLength="25.2" lengthAdjust="spacingAndGlyphs" fill="#000">89.00</text>
<text x="587.8" y="514.6" font-size="11" font-family="'Liberation Sans', 'Noto Sans CJK SC', sans-serif" text-anchor="middle" textLength="30.3" lengthAdjust="spacingAndGlyphs" fill="#000">794.10</text>
<text x="585.0" y="569.2" font-size="11" font-family="'Liberation Sans', 'Noto Sans CJK SC', sans-serif" text-anchor="middle" textLength="25.2" lengthAdjust="spacingAndGlyphs" fill="#000">89.25</text>
<text x="352.0" y="741.0" font-size="13.8" font-family="'Liberation Serif', 'Noto Serif CJK SC', serif" font-weight="bold" text-anchor="middle" textLength="334.0" lengthAdjust="spacingAndGlyphs" class="t" fill="#000">国产铁矿石价格与进口铁矿石人民币价格走势图</text>
<line x1="143.5" y1="770" x2="165" y2="770" stroke="#4272bd" stroke-width="1.9"/>
<path d="M154.2 767.0L157.3 770.0L154.2 773.0L151.2 770.0Z" fill="#4f81bd"/>
<text x="167.7" y="773.4" font-size="9.6" font-family="'Liberation Sans', 'Noto Sans CJK SC', sans-serif" textLength="79.7" lengthAdjust="spacingAndGlyphs" class="t" fill="#000">国产铁矿石价格</text>
<line x1="267.3" y1="770" x2="287" y2="770" stroke="#be4b48" stroke-width="1.9"/>
<rect x="274.0" y="766.9" width="6.2" height="6.2" fill="#c0504d"/>
<text x="288.9" y="773.4" font-size="9.6" font-family="'Liberation Sans', 'Noto Sans CJK SC', sans-serif" textLength="158.8" lengthAdjust="spacingAndGlyphs" class="t" fill="#000">进口铁矿石现货贸易人民币价格</text>
<line x1="49.5" y1="768.5" x2="49.5" y2="1165" stroke="#8e8e8e" stroke-width="1"/>
<line x1="46" y1="1091.4" x2="49.5" y2="1091.4" stroke="#8e8e8e" stroke-width="1"/>
<text x="37.9" y="1094.9" font-size="9.3" font-family="'DejaVu Sans', 'Noto Sans CJK SC', sans-serif" font-weight="bold" text-anchor="end" textLength="27.5" lengthAdjust="spacingAndGlyphs" class="t" fill="#000">450.0</text>
<line x1="46" y1="1062.0" x2="49.5" y2="1062.0" stroke="#8e8e8e" stroke-width="1"/>
<text x="37.9" y="1065.5" font-size="9.3" font-family="'DejaVu Sans', 'Noto Sans CJK SC', sans-serif" font-weight="bold" text-anchor="end" textLength="27.5" lengthAdjust="spacingAndGlyphs" class="t" fill="#000">500.0</text>
<line x1="46" y1="1032.7" x2="49.5" y2="1032.7" stroke="#8e8e8e" stroke-width="1"/>
<text x="37.9" y="1036.2" font-size="9.3" font-family="'DejaVu Sans', 'Noto Sans CJK SC', sans-serif" font-weight="bold" text-anchor="end" textLength="27.5" lengthAdjust="spacingAndGlyphs" class="t" fill="#000">550.0</text>
<line x1="46" y1="1003.3" x2="49.5" y2="1003.3" stroke="#8e8e8e" stroke-width="1"/>
<text x="37.9" y="1006.8" font-size="9.3" font-family="'DejaVu Sans', 'Noto Sans CJK SC', sans-serif" font-weight="bold" text-anchor="end" textLength="27.5" lengthAdjust="spacingAndGlyphs" class="t" fill="#000">600.0</text>
<line x1="46" y1="974.0" x2="49.5" y2="974.0" stroke="#8e8e8e" stroke-width="1"/>
<text x="37.9" y="977.5" font-size="9.3" font-family="'DejaVu Sans', 'Noto Sans CJK SC', sans-serif" font-weight="bold" text-anchor="end" textLength="27.5" lengthAdjust="spacingAndGlyphs" class="t" fill="#000">650.0</text>
<line x1="46" y1="944.6" x2="49.5" y2="944.6" stroke="#8e8e8e" stroke-width="1"/>
<text x="37.9" y="948.1" font-size="9.3" font-family="'DejaVu Sans', 'Noto Sans CJK SC', sans-serif" font-weight="bold" text-anchor="end" textLength="27.5" lengthAdjust="spacingAndGlyphs" class="t" fill="#000">700.0</text>
<line x1="46" y1="915.3" x2="49.5" y2="915.3" stroke="#8e8e8e" stroke-width="1"/>
<text x="37.9" y="918.8" font-size="9.3" font-family="'DejaVu Sans', 'Noto Sans CJK SC', sans-serif" font-weight="bold" text-anchor="end" textLength="27.5" lengthAdjust="spacingAndGlyphs" class="t" fill="#000">750.0</text>
<line x1="46" y1="885.9" x2="49.5" y2="885.9" stroke="#8e8e8e" stroke-width="1"/>
<text x="37.9" y="889.4" font-size="9.3" font-family="'DejaVu Sans', 'Noto Sans CJK SC', sans-serif" font-weight="bold" text-anchor="end" textLength="27.5" lengthAdjust="spacingAndGlyphs" class="t" fill="#000">800.0</text>
<line x1="46" y1="856.6" x2="49.5" y2="856.6" stroke="#8e8e8e" stroke-width="1"/>
<text x="37.9" y="860.1" font-size="9.3" font-family="'DejaVu Sans', 'Noto Sans CJK SC', sans-serif" font-weight="bold" text-anchor="end" textLength="27.5" lengthAdjust="spacingAndGlyphs" class="t" fill="#000">850.0</text>
<line x1="46" y1="827.2" x2="49.5" y2="827.2" stroke="#8e8e8e" stroke-width="1"/>
<text x="37.9" y="830.7" font-size="9.3" font-family="'DejaVu Sans', 'Noto Sans CJK SC', sans-serif" font-weight="bold" text-anchor="end" textLength="27.5" lengthAdjust="spacingAndGlyphs" class="t" fill="#000">900.0</text>
<line x1="46" y1="797.9" x2="49.5" y2="797.9" stroke="#8e8e8e" stroke-width="1"/>
<text x="37.9" y="801.4" font-size="9.3" font-family="'DejaVu Sans', 'Noto Sans CJK SC', sans-serif" font-weight="bold" text-anchor="end" textLength="27.5" lengthAdjust="spacingAndGlyphs" class="t" fill="#000">950.0</text>
<line x1="46" y1="768.5" x2="49.5" y2="768.5" stroke="#8e8e8e" stroke-width="1"/>
<text x="37.9" y="772.0" font-size="9.3" font-family="'DejaVu Sans', 'Noto Sans CJK SC', sans-serif" font-weight="bold" text-anchor="end" textLength="33.2" lengthAdjust="spacingAndGlyphs" class="t" fill="#000">1000.0</text>
<line x1="49.8" y1="1091.5" x2="646.3" y2="1091.5" stroke="#a4a4a4" stroke-width="1"/>
<line x1="87.5" y1="1091.5" x2="87.5" y2="1139.4" stroke="#8e8e8e" stroke-width="1"/>
<line x1="124.5" y1="1091.5" x2="124.5" y2="1139.4" stroke="#8e8e8e" stroke-width="1"/>
<line x1="162.5" y1="1091.5" x2="162.5" y2="1139.4" stroke="#8e8e8e" stroke-width="1"/>
<line x1="199.5" y1="1091.5" x2="199.5" y2="1139.4" stroke="#8e8e8e" stroke-width="1"/>
<line x1="236.5" y1="1091.5" x2="236.5" y2="1165" stroke="#8e8e8e" stroke-width="1"/>
<line x1="273.5" y1="1091.5" x2="273.5" y2="1139.4" stroke="#8e8e8e" stroke-width="1"/>
<line x1="311.5" y1="1091.5" x2="311.5" y2="1139.4" stroke="#8e8e8e" stroke-width="1"/>
<line x1="348.5" y1="1091.5" x2="348.5" y2="1139.4" stroke="#8e8e8e" stroke-width="1"/>
<line x1="385.5" y1="1091.5" x2="385.5" y2="1139.4" stroke="#8e8e8e" stroke-width="1"/>
<line x1="423.5" y1="1091.5" x2="423.5" y2="1139.4" stroke="#8e8e8e" stroke-width="1"/>
<line x1="460.5" y1="1091.5" x2="460.5" y2="1139.4" stroke="#8e8e8e" stroke-width="1"/>
<line x1="497.5" y1="1091.5" x2="497.5" y2="1139.4" stroke="#8e8e8e" stroke-width="1"/>
<line x1="534.5" y1="1091.5" x2="534.5" y2="1139.4" stroke="#8e8e8e" stroke-width="1"/>
<line x1="572.5" y1="1091.5" x2="572.5" y2="1139.4" stroke="#8e8e8e" stroke-width="1"/>
<line x1="609.5" y1="1091.5" x2="609.5" y2="1139.4" stroke="#8e8e8e" stroke-width="1"/>
<line x1="646.5" y1="1091.5" x2="646.5" y2="1165" stroke="#8e8e8e" stroke-width="1"/>
<text x="0.0" y="0.0" font-size="10" font-family="'DejaVu Sans', 'Noto Sans CJK SC', sans-serif" text-anchor="end" textLength="28.2" lengthAdjust="spacingAndGlyphs" class="t" transform="translate(72.3,1101.2) rotate(-90)" fill="#000"><tspan font-size="8.5" style="stroke-width:0.45px">8</tspan>月末</text>
<text x="0.0" y="0.0" font-size="10" font-family="'DejaVu Sans', 'Noto Sans CJK SC', sans-serif" text-anchor="end" textLength="28.2" lengthAdjust="spacingAndGlyphs" class="t" transform="translate(109.6,1101.2) rotate(-90)" fill="#000"><tspan font-size="8.5" style="stroke-width:0.45px">9</tspan>月末</text>
<text x="0.0" y="0.0" font-size="10" font-family="'DejaVu Sans', 'Noto Sans CJK SC', sans-serif" text-anchor="end" textLength="34.4" lengthAdjust="spacingAndGlyphs" class="t" transform="translate(146.9,1101.2) rotate(-90)" fill="#000"><tspan font-size="8.5" style="stroke-width:0.45px">10</tspan>月末</text>
<text x="0.0" y="0.0" font-size="10" font-family="'DejaVu Sans', 'Noto Sans CJK SC', sans-serif" text-anchor="end" textLength="34.4" lengthAdjust="spacingAndGlyphs" class="t" transform="translate(184.2,1101.2) rotate(-90)" fill="#000"><tspan font-size="8.5" style="stroke-width:0.45px">11</tspan>月末</text>
<text x="0.0" y="0.0" font-size="10" font-family="'DejaVu Sans', 'Noto Sans CJK SC', sans-serif" text-anchor="end" textLength="34.4" lengthAdjust="spacingAndGlyphs" class="t" transform="translate(221.5,1101.2) rotate(-90)" fill="#000"><tspan font-size="8.5" style="stroke-width:0.45px">12</tspan>月末</text>
<text x="0.0" y="0.0" font-size="10" font-family="'DejaVu Sans', 'Noto Sans CJK SC', sans-serif" text-anchor="end" textLength="28.2" lengthAdjust="spacingAndGlyphs" class="t" transform="translate(258.7,1101.2) rotate(-90)" fill="#000"><tspan font-size="8.5" style="stroke-width:0.45px">1</tspan>月末</text>
<text x="0.0" y="0.0" font-size="10" font-family="'DejaVu Sans', 'Noto Sans CJK SC', sans-serif" text-anchor="end" textLength="28.2" lengthAdjust="spacingAndGlyphs" class="t" transform="translate(296.0,1101.2) rotate(-90)" fill="#000"><tspan font-size="8.5" style="stroke-width:0.45px">2</tspan>月末</text>
<text x="0.0" y="0.0" font-size="10" font-family="'DejaVu Sans', 'Noto Sans CJK SC', sans-serif" text-anchor="end" textLength="28.2" lengthAdjust="spacingAndGlyphs" class="t" transform="translate(333.3,1101.2) rotate(-90)" fill="#000"><tspan font-size="8.5" style="stroke-width:0.45px">3</tspan>月末</text>
<text x="0.0" y="0.0" font-size="10" font-family="'DejaVu Sans', 'Noto Sans CJK SC', sans-serif" text-anchor="end" textLength="28.2" lengthAdjust="spacingAndGlyphs" class="t" transform="translate(370.6,1101.2) rotate(-90)" fill="#000"><tspan font-size="8.5" style="stroke-width:0.45px">4</tspan>月末</text>
<text x="0.0" y="0.0" font-size="10" font-family="'DejaVu Sans', 'Noto Sans CJK SC', sans-serif" text-anchor="end" textLength="28.2" lengthAdjust="spacingAndGlyphs" class="t" transform="translate(407.9,1101.2) rotate(-90)" fill="#000"><tspan font-size="8.5" style="stroke-width:0.45px">5</tspan>月末</text>
<text x="0.0" y="0.0" font-size="10" font-family="'DejaVu Sans', 'Noto Sans CJK SC', sans-serif" text-anchor="end" textLength="28.2" lengthAdjust="spacingAndGlyphs" class="t" transform="translate(445.1,1101.2) rotate(-90)" fill="#000"><tspan font-size="8.5" style="stroke-width:0.45px">6</tspan>月末</text>
<text x="0.0" y="0.0" font-size="10" font-family="'DejaVu Sans', 'Noto Sans CJK SC', sans-serif" text-anchor="end" textLength="28.2" lengthAdjust="spacingAndGlyphs" class="t" transform="translate(482.4,1101.2) rotate(-90)" fill="#000"><tspan font-size="8.5" style="stroke-width:0.45px">7</tspan>月末</text>
<text x="0.0" y="0.0" font-size="10" font-family="'DejaVu Sans', 'Noto Sans CJK SC', sans-serif" text-anchor="end" textLength="28.2" lengthAdjust="spacingAndGlyphs" class="t" transform="translate(519.7,1101.2) rotate(-90)" fill="#000"><tspan font-size="8.5" style="stroke-width:0.45px">8</tspan>月末</text>
<text x="0.0" y="0.0" font-size="10" font-family="'DejaVu Sans', 'Noto Sans CJK SC', sans-serif" text-anchor="end" textLength="31.5" lengthAdjust="spacingAndGlyphs" class="t" transform="translate(557.0,1101.2) rotate(-90)" fill="#000"><tspan font-size="8.5" style="stroke-width:0.45px">9</tspan>月<tspan font-size="8.5" style="stroke-width:0.45px">2</tspan>日</text>
<text x="0.0" y="0.0" font-size="10" font-family="'DejaVu Sans', 'Noto Sans CJK SC', sans-serif" text-anchor="end" textLength="31.5" lengthAdjust="spacingAndGlyphs" class="t" transform="translate(594.3,1101.2) rotate(-90)" fill="#000"><tspan font-size="8.5" style="stroke-width:0.45px">9</tspan>月<tspan font-size="8.5" style="stroke-width:0.45px">3</tspan>日</text>
<text x="0.0" y="0.0" font-size="10" font-family="'DejaVu Sans', 'Noto Sans CJK SC', sans-serif" text-anchor="end" textLength="31.5" lengthAdjust="spacingAndGlyphs" class="t" transform="translate(631.5,1101.2) rotate(-90)" fill="#000"><tspan font-size="8.5" style="stroke-width:0.45px">9</tspan>月<tspan font-size="8.5" style="stroke-width:0.45px">4</tspan>日</text>
<text x="143.0" y="1161.0" font-size="10" font-family="'DejaVu Sans', 'Noto Sans CJK SC', sans-serif" text-anchor="middle" textLength="33.0" lengthAdjust="spacingAndGlyphs" fill="#000">2018年</text>
<text x="441.2" y="1161.0" font-size="10" font-family="'DejaVu Sans', 'Noto Sans CJK SC', sans-serif" text-anchor="middle" textLength="33.0" lengthAdjust="spacingAndGlyphs" fill="#000">2019年</text>
<polyline points="68.4,1000.9 105.7,992.1 143.0,971.6 180.3,979.9 217.6,993.9 254.8,987.8 292.1,977.8 329.4,976.2 366.7,985.6 404.0,957.3 441.2,922.0 478.5,880.9 515.8,933.2 553.1,934.2 590.4,934.6 627.6,933.3" fill="none" stroke="#4272bd" stroke-width="2.0" stroke-linejoin="round" stroke-linecap="round"/>
<path d="M68.4 997.1L72.2 1000.9L68.4 1004.7L64.6 1000.9Z" fill="#4f81bd"/>
<path d="M105.7 988.3L109.5 992.1L105.7 995.9L101.9 992.1Z" fill="#4f81bd"/>
<path d="M143.0 967.8L146.8 971.6L143.0 975.4L139.2 971.6Z" fill="#4f81bd"/>
<path d="M180.3 976.1L184.1 979.9L180.3 983.7L176.5 979.9Z" fill="#4f81bd"/>
<path d="M217.6 990.1L221.4 993.9L217.6 997.7L213.8 993.9Z" fill="#4f81bd"/>
<path d="M254.8 984.0L258.6 987.8L254.8 991.6L251.0 987.8Z" fill="#4f81bd"/>
<path d="M292.1 974.0L295.9 977.8L292.1 981.6L288.3 977.8Z" fill="#4f81bd"/>
<path d="M329.4 972.4L333.2 976.2L329.4 980.0L325.6 976.2Z" fill="#4f81bd"/>
<path d="M366.7 981.8L370.5 985.6L366.7 989.4L362.9 985.6Z" fill="#4f81bd"/>
<path d="M404.0 953.5L407.8 957.3L404.0 961.1L400.2 957.3Z" fill="#4f81bd"/>
<path d="M441.2 918.2L445.0 922.0L441.2 925.8L437.4 922.0Z" fill="#4f81bd"/>
<path d="M478.5 877.1L482.3 880.9L478.5 884.7L474.7 880.9Z" fill="#4f81bd"/>
<path d="M515.8 929.4L519.6 933.2L515.8 937.0L512.0 933.2Z" fill="#4f81bd"/>
<path d="M553.1 930.4L556.9 934.2L553.1 938.0L549.3 934.2Z" fill="#4f81bd"/>
<path d="M590.4 930.8L594.2 934.6L590.4 938.4L586.6 934.6Z" fill="#4f81bd"/>
<path d="M627.6 929.5L631.4 933.3L627.6 937.1L623.8 933.3Z" fill="#4f81bd"/>
<polyline points="68.4,1050.9 105.7,1040.4 143.0,1004.6 180.3,1020.4 217.6,1005.7 254.8,962.2 292.1,960.1 329.4,954.5 366.7,928.4 404.0,880.6 441.2,825.0 478.5,794.5 515.8,908.6 553.1,890.7 590.4,888.3 627.6,889.4" fill="none" stroke="#be4b48" stroke-width="2.0" stroke-linejoin="round" stroke-linecap="round"/>
<rect x="64.5" y="1047.0" width="7.8" height="7.8" fill="#c0504d"/>
<rect x="101.8" y="1036.5" width="7.8" height="7.8" fill="#c0504d"/>
<rect x="139.1" y="1000.7" width="7.8" height="7.8" fill="#c0504d"/>
<rect x="176.4" y="1016.5" width="7.8" height="7.8" fill="#c0504d"/>
<rect x="213.7" y="1001.8" width="7.8" height="7.8" fill="#c0504d"/>
<rect x="250.9" y="958.3" width="7.8" height="7.8" fill="#c0504d"/>
<rect x="288.2" y="956.2" width="7.8" height="7.8" fill="#c0504d"/>
<rect x="325.5" y="950.6" width="7.8" height="7.8" fill="#c0504d"/>
<rect x="362.8" y="924.5" width="7.8" height="7.8" fill="#c0504d"/>
<rect x="400.1" y="876.7" width="7.8" height="7.8" fill="#c0504d"/>
<rect x="437.3" y="821.1" width="7.8" height="7.8" fill="#c0504d"/>
<rect x="474.6" y="790.6" width="7.8" height="7.8" fill="#c0504d"/>
<rect x="511.9" y="904.7" width="7.8" height="7.8" fill="#c0504d"/>
<rect x="549.2" y="886.8" width="7.8" height="7.8" fill="#c0504d"/>
<rect x="586.5" y="884.4" width="7.8" height="7.8" fill="#c0504d"/>
<rect x="623.7" y="885.5" width="7.8" height="7.8" fill="#c0504d"/>
<text x="146.4" y="962.5" font-size="9" font-family="'DejaVu Sans', 'Noto Sans CJK SC', sans-serif" text-anchor="middle" textLength="31.0" lengthAdjust="spacingAndGlyphs" fill="#000">654.01</text>
<text x="73.2" y="1012.7" font-size="9" font-family="'DejaVu Sans', 'Noto Sans CJK SC', sans-serif" text-anchor="middle" textLength="31.0" lengthAdjust="spacingAndGlyphs" fill="#000">604.09</text>
<text x="195.1" y="1013.5" font-size="9" font-family="'DejaVu Sans', 'Noto Sans CJK SC', sans-serif" text-anchor="middle" textLength="31.0" lengthAdjust="spacingAndGlyphs" fill="#000">570.88</text>
<text x="78.8" y="1063.3" font-size="9" font-family="'DejaVu Sans', 'Noto Sans CJK SC', sans-serif" text-anchor="middle" textLength="31.0" lengthAdjust="spacingAndGlyphs" fill="#000">519.06</text>
<text x="275.0" y="974.1" font-size="9" font-family="'DejaVu Sans', 'Noto Sans CJK SC', sans-serif" text-anchor="middle" textLength="31.0" lengthAdjust="spacingAndGlyphs" fill="#000">626.49</text>
<text x="324.2" y="970.4" font-size="9" font-family="'DejaVu Sans', 'Noto Sans CJK SC', sans-serif" text-anchor="middle" textLength="31.0" lengthAdjust="spacingAndGlyphs" fill="#000">646.15</text>
<text x="388.0" y="922.4" font-size="9" font-family="'DejaVu Sans', 'Noto Sans CJK SC', sans-serif" text-anchor="middle" textLength="31.0" lengthAdjust="spacingAndGlyphs" fill="#000">727.64</text>
<text x="408.4" y="951.9" font-size="9" font-family="'DejaVu Sans', 'Noto Sans CJK SC', sans-serif" text-anchor="middle" textLength="31.0" lengthAdjust="spacingAndGlyphs" fill="#000">678.38</text>
<text x="465.4" y="788.7" font-size="9" font-family="'DejaVu Sans', 'Noto Sans CJK SC', sans-serif" text-anchor="middle" textLength="31.0" lengthAdjust="spacingAndGlyphs" fill="#000">955.65</text>
<text x="480.8" y="867.5" font-size="9" font-family="'DejaVu Sans', 'Noto Sans CJK SC', sans-serif" text-anchor="middle" textLength="31.0" lengthAdjust="spacingAndGlyphs" fill="#000">808.54</text>
<text x="562.3" y="886.8" font-size="9" font-family="'DejaVu Sans', 'Noto Sans CJK SC', sans-serif" text-anchor="middle" textLength="31.0" lengthAdjust="spacingAndGlyphs" fill="#000">791.81</text>
<text x="620.0" y="902.1" font-size="9" font-family="'DejaVu Sans', 'Noto Sans CJK SC', sans-serif" text-anchor="middle" textLength="31.0" lengthAdjust="spacingAndGlyphs" fill="#000">794.10</text>
<text x="536.5" y="950.2" font-size="9" font-family="'DejaVu Sans', 'Noto Sans CJK SC', sans-serif" text-anchor="middle" textLength="31.0" lengthAdjust="spacingAndGlyphs" fill="#000">719.39</text>
<text x="627.7" y="931.8" font-size="9" font-family="'DejaVu Sans', 'Noto Sans CJK SC', sans-serif" text-anchor="middle" textLength="31.0" lengthAdjust="spacingAndGlyphs" fill="#000">719.29</text>
</svg>
</body></html>
